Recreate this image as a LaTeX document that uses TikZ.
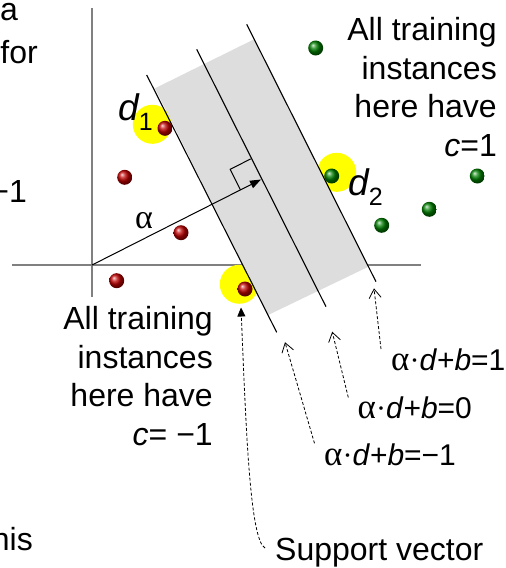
\documentclass[tikz,border=0pt]{standalone}
\usepackage{fontspec}
\setmainfont{Liberation Sans}
\newfontfamily\symfont{Liberation Serif}
\usetikzlibrary{arrows.meta,shadings}
\definecolor{axisgray}{HTML}{808080}
\definecolor{bandgray}{HTML}{DDDDDD}
\definecolor{hiyellow}{HTML}{FFFF00}
\newcommand{\eqalpha}{{\fontsize{35}{35}\selectfont\symfont α}{\symfont ·}}
\begin{document}
\begin{tikzpicture}[x=1pt,y=-1pt,
  axis/.style={draw=axisgray, line width=1.7pt},
  bandline/.style={draw=black, line width=1.1pt},
  hilite/.style={circle, fill=hiyellow, minimum size=39pt, inner sep=0},
  redball/.style={circle, shading=ball, ball color=red!75!black, minimum size=15pt, inner sep=0},
  greenball/.style={circle, shading=ball, ball color=green!50!black, minimum size=15pt, inner sep=0},
  txt/.style={font=\fontsize{30}{38.5}\selectfont, inner sep=0},
  bigtxt/.style={font=\fontsize{32}{38.5}\selectfont, inner sep=0},
  dlabel/.style={font=\fontsize{37}{37}\selectfont, inner sep=0},
  ptr/.style={dash pattern=on 3pt off 2pt, line width=0.8pt, -{Straight Barb[length=9pt,width=12pt,line width=0.8pt]}},
]
\useasboundingbox (0,0) rectangle (506,568);

% axes
\coordinate (O) at (92,265);
\coordinate (xl) at (12,265);
\coordinate (xr) at (421,265);
\coordinate (yt) at (92,8);
\coordinate (yb) at (92,297);
\draw[axis] (xl) -- (xr);
\draw[axis] (yt) -- (yb);

% highlights
\node[hilite] (h1) at (152.3,124.3) {};
\node[hilite] (h2) at (336.7,172.3) {};
\node[hilite] (h3) at (239.3,284.3) {};

% margin band
\fill[bandgray] (155,88.3) -- (254,39.3) -- (368.5,266.7) -- (268.1,315) -- cycle;
\coordinate (l1a) at (146.7,75);   \coordinate (l1b) at (276.7,332.3);
\coordinate (l2a) at (196.7,49.3); \coordinate (l2b) at (326,306.7);
\coordinate (l3a) at (246.7,24.3); \coordinate (l3b) at (376,281.7);
\draw[bandline] (l1a) -- (l1b);
\draw[bandline] (l2a) -- (l2b);
\draw[bandline] (l3a) -- (l3b);

% normal vector alpha
\coordinate (T) at (261,179.5);
\draw[line width=1pt, -{Triangle[length=11pt,width=8pt]}] (O) -- (T);
\coordinate (ra1) at (240.5,189.9);
\coordinate (ra2) at (230.2,169.3);
\coordinate (ra3) at (250.7,158.9);
\draw[line width=1pt] (ra1) -- (ra2) -- (ra3);
\node[inner sep=0, anchor=base west, font=\fontsize{34}{34}\selectfont\symfont] (alpha) at (135,228) {α};

% data points
\node[redball] (r1) at (165,128.3) {};
\node[redball] (r2) at (124.7,177.3) {};
\node[redball] (r3) at (181,232.7) {};
\node[redball] (r4) at (116.7,280.7) {};
\node[redball] (sv) at (245,289) {};
\node[greenball] (g1) at (315.7,48) {};
\node[greenball] (g2) at (331.7,176) {};
\node[greenball] (g3) at (477.3,176) {};
\node[greenball] (g4) at (429.3,209.3) {};
\node[greenball] (g5) at (381.7,225.3) {};

% d labels
\node[dlabel, anchor=base west] (d1) at (118,120) {\itshape d\raisebox{-10pt}{\fontsize{25}{25}\selectfont\upshape 1}};
\node[dlabel, anchor=base west] (d2) at (348,195) {\itshape d\raisebox{-10pt}{\fontsize{25}{25}\selectfont\upshape 2}};

% class texts
\node[bigtxt, align=right, anchor=north east] (pos) at (497,17.3) {All training\\instances\\here have\\\textit{c}=1};
\node[bigtxt, align=right, anchor=north east] (neg) at (213,306.6) {All training\\instances\\here have\\\textit{c}= −1};

% equations
\node[txt, anchor=base west] (e1) at (391,370) {\eqalpha\textit{d}+\textit{b}=1};
\node[txt, anchor=base west] (e0) at (357.5,418.3) {\eqalpha\textit{d}+\textit{b}=0};
\node[txt, anchor=base west] (em) at (324,465) {\eqalpha\textit{d}+\textit{b}=−1};
\node[bigtxt, anchor=base west] (svl) at (275,560) {Support vector};

% pointers
\coordinate (p1t) at (381,349);   \coordinate (p1h) at (374,288.3);
\coordinate (p0t) at (348.3,397.5); \coordinate (p0h) at (332.2,331.7);
\coordinate (pmt) at (314.5,443.3); \coordinate (pmh) at (285,342.2);
\draw[ptr] (p1t) -- (p1h);
\draw[ptr] (p0t) -- (p0h);
\draw[ptr] (pmt) -- (pmh);
\coordinate (svt) at (265,548);
\coordinate (svh) at (241,307.5);
\draw[dash pattern=on 3pt off 2pt, line width=0.8pt, -{Triangle[length=9pt,width=8pt]}]
  (svt) .. controls (250,540) and (246,430) .. (svh);

% cut-off fragments at the left edge
\node[bigtxt, anchor=base east] (fa) at (18,20) {a};
\node[bigtxt, anchor=base east] (ff) at (38,63) {for};
\node[bigtxt, anchor=base east] (fm) at (27,202) {−1};
\node[bigtxt, anchor=base east] (fh) at (33,550) {his};
\end{tikzpicture}
\end{document}
